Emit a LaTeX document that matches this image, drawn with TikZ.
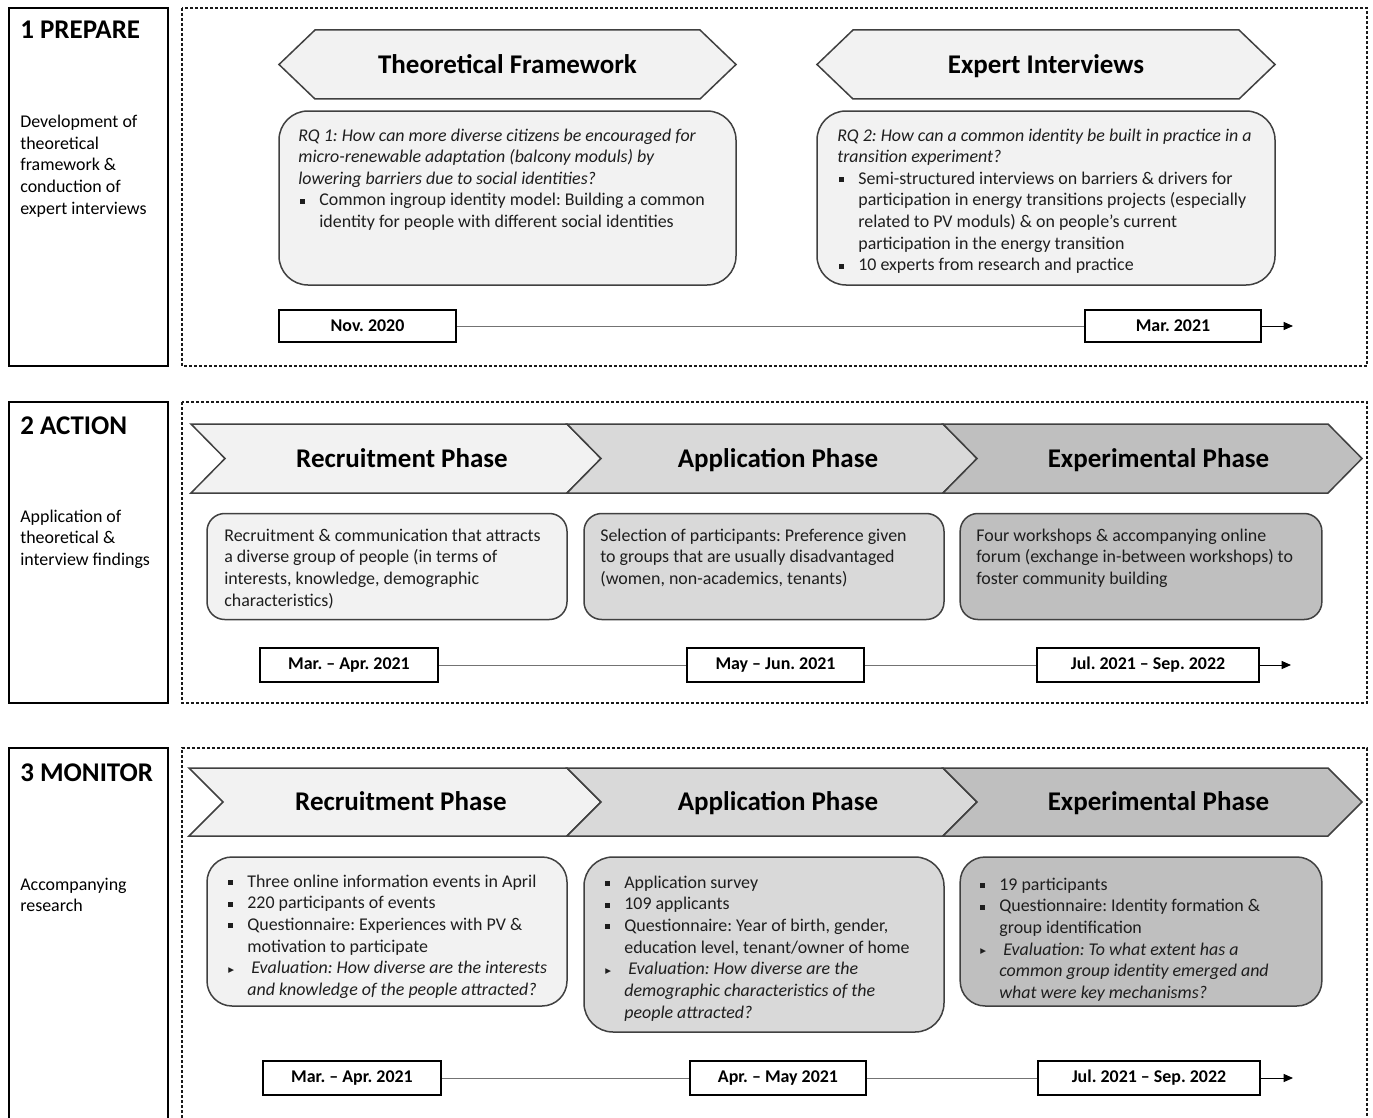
\documentclass[tikz,border=0pt]{standalone}
\usepackage{fontspec}
\setmainfont{Carlito}
\newfontfamily\trifont{DejaVu Sans}
\usetikzlibrary{arrows.meta}
\definecolor{edge}{RGB}{64,64,64}
\definecolor{paleg}{RGB}{242,242,242}
\definecolor{midg}{RGB}{217,217,217}
\definecolor{darkg}{RGB}{191,191,191}
\definecolor{bodytxt}{RGB}{30,30,30}
\frenchspacing

\newcommand{\bodyfont}{\fontsize{10.75}{13}\selectfont}
\newcommand{\sq}{\makebox[12.6pt][l]{\hspace{1.2pt}\rule[1.3pt]{3pt}{3pt}}}
\newcommand{\tri}{\makebox[12.6pt][l]{\hspace{1.2pt}\raisebox{0.9pt}{\trifont\fontsize{4.5}{5}\selectfont ▶}}}
\newcommand{\ind}{\hspace*{12.6pt}}
\newcommand{\chevron}[7]{% name, x start, x tip, y top, y bottom, fill, label
  \draw[phase, fill=#6] (#2,#4) -- (#3-34,#4) -- (#3,{(#4+#5)/2}) -- (#3-34,#5) -- (#2,#5) -- (#2+34,{(#4+#5)/2}) -- cycle;
  \node[head] (#1) at ({(#2+#3)/2+6},{(#4+#5)/2+8.5}) {#7};}

\begin{document}
\begin{tikzpicture}[x=0.6pt, y=-0.6pt,
    side/.style={draw=black, line width=0.9pt},
    frame/.style={draw=black!90, line width=0.7pt, dash pattern=on 1.8pt off 1.2pt},
    phase/.style={draw=edge, line width=0.9pt},
    head/.style={font=\fontsize{16.2}{19}\selectfont\bfseries, anchor=base, inner sep=0pt},
    title/.style={font=\fontsize{16.2}{19}\selectfont\bfseries, anchor=base west, inner sep=0pt},
    note/.style={draw=edge, line width=0.9pt, inner sep=0pt},
    body/.style={font=\bodyfont, text=bodytxt, anchor=base west, inner sep=0pt},
    date/.style={draw=black, line width=0.9pt, font=\bodyfont\bfseries, inner sep=0pt},
    tline/.style={draw=black!55, line width=0.6pt},
    tarrow/.style={draw=black, line width=0.6pt, -{Triangle[length=5.6pt, width=4.8pt]}}]

    \path[use as bounding box, fill=white] (0,0) rectangle (1373,1118);

    % 1 prepare
    \draw[side] (9,8) rectangle (168,366);
    \draw[frame] (182,8) rectangle (1367,366);
    \node[title] (prep) at (20,39) {1 PREPARE};
    \node[body, text=black] (prepdesc) at (20,127.5) {\parbox[t]{85pt}{\raggedright
        Development of\\theoretical\\framework \&\\conduction of\\expert interviews}};

    \draw[phase, fill=paleg] (279,64.5) -- (315,30) -- (700,30) -- (736,64.5) -- (700,99) -- (315,99) -- cycle;
    \node[head] (theo) at (507.5,73.5) {Theoretical Framework};
    \draw[phase, fill=paleg] (817,64.5) -- (853,30) -- (1239,30) -- (1275,64.5) -- (1239,99) -- (853,99) -- cycle;
    \node[head] (expert) at (1046,73.5) {Expert Interviews};

    \node[note, fill=paleg, rounded corners=17.4pt, minimum width=274.2pt, minimum height=104.4pt] (rq1) at (507.5,198) {};
    \node[body] (rq1txt) at (298,141) {\parbox[t]{265pt}{\raggedright
        \textit{RQ 1: How can more diverse citizens be encouraged for}\\
        \textit{micro-renewable adaptation (balcony moduls) by}\\
        \textit{lowering barriers due to social identities?}\\
        \sq Common ingroup identity model: Building a common\\
        \ind identity for people with different social identities}};

    \node[note, fill=paleg, rounded corners=17.4pt, minimum width=274.8pt, minimum height=104.4pt] (rq2) at (1046,198) {};
    \node[body] (rq2txt) at (837,141) {\parbox[t]{265pt}{\raggedright
        \textit{RQ 2: How can a common identity be built in practice in a}\\
        \textit{transition experiment?}\\
        \sq Semi-structured interviews on barriers \& drivers for\\
        \ind participation in energy transitions projects (especially\\
        \ind related to PV moduls) \& on people's current\\
        \ind participation in the energy transition\\
        \sq 10 experts from research and practice}};

    \node[date, minimum width=106.2pt, minimum height=19.2pt] (d11) at (367.5,326) {Nov. 2020};
    \node[date, minimum width=105.6pt, minimum height=19.2pt] (d12) at (1173,326) {Mar. 2021};
    \coordinate (t1) at (1293,326);
    \draw[tline] (d11) -- (d12);
    \draw[tarrow] (d12) -- (t1);

    % 2 action
    \draw[side] (9,402) rectangle (168,703);
    \draw[frame] (182,402) rectangle (1367,703);
    \node[title] (act) at (20,434) {2 ACTION};
    \node[body, text=black] (actdesc) at (20,522) {\parbox[t]{85pt}{\raggedright
        Application of\\theoretical \&\\interview findings}};

    \chevron{recA}{191}{601}{424}{493}{paleg}{Recruitment Phase}
    \chevron{appA}{567}{977}{424}{493}{midg}{Application Phase}
    \chevron{expA}{943}{1362}{424}{493}{darkg}{Experimental Phase}

    \node[note, fill=paleg, rounded corners=10.6pt, minimum width=216pt, minimum height=63.6pt] (recAbox) at (387,566.5) {};
    \node[body] (recAtxt) at (224,541) {\parbox[t]{210pt}{\raggedright
        Recruitment \& communication that attracts\\
        a diverse group of people (in terms of\\
        interests, knowledge, demographic\\
        characteristics)}};
    \node[note, fill=midg, rounded corners=10.6pt, minimum width=216pt, minimum height=63.6pt] (appAbox) at (764,566.5) {};
    \node[body] (appAtxt) at (600,541) {\parbox[t]{210pt}{\raggedright
        Selection of participants: Preference given\\
        to groups that are usually disadvantaged\\
        (women, non-academics, tenants)}};
    \node[note, fill=darkg, rounded corners=10.6pt, minimum width=217pt, minimum height=63.6pt] (expAbox) at (1141,566.5) {};
    \node[body] (expAtxt) at (976,541) {\parbox[t]{210pt}{\raggedright
        Four workshops \& accompanying online\\
        forum (exchange in-between workshops) to\\
        foster community building}};

    \node[date, minimum width=106.8pt, minimum height=20.4pt] (d21) at (349,665) {Mar. -- Apr. 2021};
    \node[date, minimum width=106.2pt, minimum height=20.4pt] (d22) at (775.5,665) {May -- Jun. 2021};
    \node[date, minimum width=133.2pt, minimum height=20.4pt] (d23) at (1148,665) {Jul. 2021 -- Sep. 2022};
    \coordinate (t2) at (1291,665);
    \draw[tline] (d21) -- (d22);
    \draw[tline] (d22) -- (d23);
    \draw[tarrow] (d23) -- (t2);

    % 3 monitor
    \draw[side] (9,1118) |- (168,748) -- (168,1118);
    \draw[frame] (182,1118) |- (1367,748) -- (1367,1118);
    \node[title] (mon) at (20,781) {3 MONITOR};
    \node[body, text=black] (mondesc) at (20,890) {\parbox[t]{85pt}{\raggedright
        Accompanying\\research}};

    \chevron{recM}{189}{601}{768}{836}{paleg}{Recruitment Phase}
    \chevron{appM}{567}{977}{768}{836}{midg}{Application Phase}
    \chevron{expM}{943}{1362}{768}{836}{darkg}{Experimental Phase}

    \node[note, fill=paleg, rounded corners=15pt, minimum width=216pt, minimum height=89.4pt] (recMbox) at (387,931.5) {};
    \node[body] (recMtxt) at (226,887) {\parbox[t]{210pt}{\raggedright
        \sq Three online information events in April\\
        \sq 220 participants of events\\
        \sq Questionnaire: Experiences with PV \&\\
        \ind motivation to participate\\
        \tri\ \textit{Evaluation: How diverse are the interests}\\
        \ind\textit{and knowledge of the people attracted?}}};
    \node[note, fill=midg, rounded corners=17.4pt, minimum width=216pt, minimum height=105pt] (appMbox) at (764,944.5) {};
    \node[body] (appMtxt) at (603,888) {\parbox[t]{210pt}{\raggedright
        \sq Application survey\\
        \sq 109 applicants\\
        \sq Questionnaire: Year of birth, gender,\\
        \ind education level, tenant/owner of home\\
        \tri\ \textit{Evaluation: How diverse are the}\\
        \ind\textit{demographic characteristics of the}\\
        \ind\textit{people attracted?}}};
    \node[note, fill=darkg, rounded corners=15pt, minimum width=217pt, minimum height=89.4pt] (expMbox) at (1141,931.5) {};
    \node[body] (expMtxt) at (978,890) {\parbox[t]{210pt}{\raggedright
        \sq 19 participants\\
        \sq Questionnaire: Identity formation \&\\
        \ind group identification\\
        \tri\ \textit{Evaluation: To what extent has a}\\
        \ind\textit{common group identity emerged and}\\
        \ind\textit{what were key mechanisms?}}};

    \node[date, minimum width=106.8pt, minimum height=20.4pt] (d31) at (352,1078) {Mar. -- Apr. 2021};
    \node[date, minimum width=105.6pt, minimum height=20.4pt] (d32) at (778,1078) {Apr. -- May 2021};
    \node[date, minimum width=133.2pt, minimum height=20.4pt] (d33) at (1149,1078) {Jul. 2021 -- Sep. 2022};
    \coordinate (t3) at (1293,1078);
    \draw[tline] (d31) -- (d32);
    \draw[tline] (d32) -- (d33);
    \draw[tarrow] (d33) -- (t3);
\end{tikzpicture}
\end{document}
